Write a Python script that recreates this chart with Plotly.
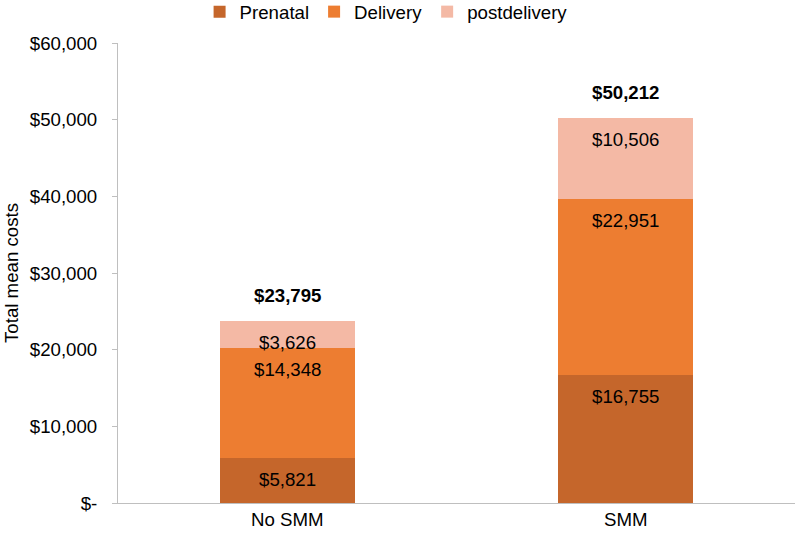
import plotly.graph_objects as go

categories = ["No SMM", "SMM"]
prenatal = [5821, 16755]
delivery = [14348, 22951]
postdelivery = [3626, 10506]
totals = [23795, 50212]
tick_vals = [0, 10000, 20000, 30000, 40000, 50000, 60000]
tick_text = ["$-", "$10,000", "$20,000", "$30,000", "$40,000", "$50,000", "$60,000"]

series = [
    ("Prenatal", prenatal, "#C5662B"),
    ("Delivery", delivery, "#ED7D31"),
    ("postdelivery", postdelivery, "#F4B9A5"),
]

FONT = "Liberation Sans, Arial, sans-serif"
FS = 18.67
fig = go.Figure()
cum = [0, 0]
annotations = []
for name, vals, color in series:
    fig.add_trace(go.Bar(
        name=name, x=categories, y=vals, marker=dict(color=color, line=dict(width=0)),
        width=0.4,
    ))
    for i, v in enumerate(vals):
        cum[i] += v
        annotations.append(dict(
            x=categories[i], y=cum[i], text=f"${v:,}", showarrow=False,
            yanchor="top", yshift=-9, font=dict(family=FONT, size=FS, color="#000000"),
        ))
for i, t in enumerate(totals):
    annotations.append(dict(
        x=categories[i], y=t, text=f"<b>${t:,}</b>", showarrow=False,
        yanchor="bottom", yshift=13, font=dict(family=FONT, size=FS, color="#000000"),
    ))

fig.update_layout(
    barmode="stack",
    width=800, height=534,
    margin=dict(l=118, r=5, t=43, b=31, autoexpand=False),
    paper_bgcolor="white", plot_bgcolor="white",
    font=dict(family=FONT, size=FS, color="#000000"),
    legend=dict(orientation="h", x=0.396, xanchor="center",
                y=1.0674, yanchor="middle",
                font=dict(family=FONT, size=FS), itemwidth=30,
                traceorder="normal"),
    annotations=annotations,
)
fig.update_yaxes(
    range=[0, 60000], tickvals=tick_vals, ticktext=tick_text, showgrid=False,
    showline=True, linecolor="#BFBFBF", linewidth=1, ticks="outside", ticklen=5,
    tickcolor="#BFBFBF", tickfont=dict(family=FONT, size=FS),
    ticklabelstandoff=11,
    title=dict(text="Total mean costs", font=dict(family=FONT, size=FS), standoff=6),
    zeroline=False, automargin=False,
)
fig.update_xaxes(
    showline=True, linecolor="#BFBFBF", linewidth=1, showgrid=False,
    tickfont=dict(family=FONT, size=FS), ticks="", automargin=False,
)

fig.write_html("out.html", config={"displayModeBar": False},
               post_script="document.body.style.margin='0';")
